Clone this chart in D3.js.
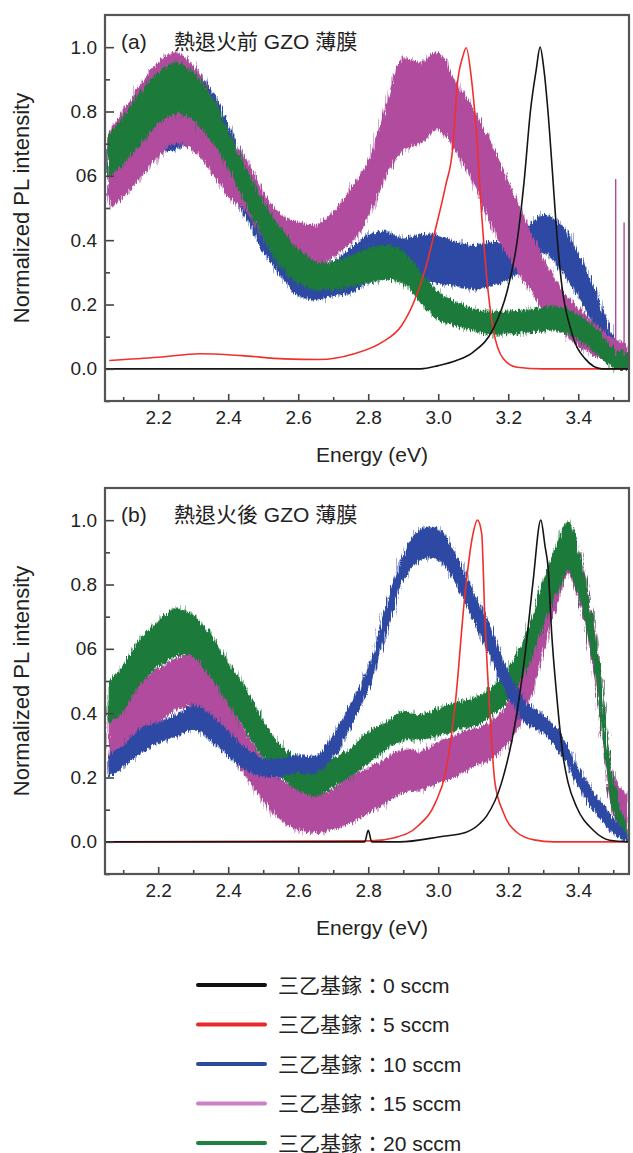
<!DOCTYPE html>
<html>
<head>
<meta charset="utf-8">
<script src="https://cdn.jsdelivr.net/npm/d3@7"></script>
<style>
  body { margin: 0; background: #fff; }
  text { font-family: "Liberation Sans", Arial, "Noto Sans CJK TC", sans-serif; fill: #222; }
</style>
</head>
<body>
<svg id="chart" width="633" height="1153"></svg>
<script>
// ---- tick values / labels ----
const xTicks = [2.2, 2.4, 2.6, 2.8, 3.0, 3.2, 3.4];
const xMinor = [2.1, 2.3, 2.5, 2.7, 2.9, 3.1, 3.3, 3.5];
const yTicks = [0.0, 0.2, 0.4, 0.6, 0.8, 1.0];
const yTickLabels = ["0.0", "0.2", "0.4", "06", "0.8", "1.0"];
const yMinor = [-0.1, 0.1, 0.3, 0.5, 0.7, 0.9];

const seriesNames = ["三乙基鎵：0 sccm", "三乙基鎵：5 sccm", "三乙基鎵：10 sccm", "三乙基鎵：15 sccm", "三乙基鎵：20 sccm"];
const seriesColors = ["#151515", "#f0302c", "#2e4aa3", "#b04c9e", "#1b7a3b"];
const legendColors = ["#111111", "#e8282a", "#2d4b9e", "#cc80c6", "#1f803f"];

// ---- (a) before annealing : [energy, value] for thin lines ----
const aBlack = [[2.05,0],[2.95,0],[3.0,0.01],[3.05,0.025],[3.1,0.052],[3.157,0.124],[3.196,0.238],[3.225,0.393],
  [3.245,0.579],[3.264,0.807],[3.28,0.93],[3.291,1.0],[3.302,0.93],[3.313,0.807],[3.327,0.6],[3.337,0.445],
  [3.352,0.269],[3.381,0.114],[3.42,0.031],[3.468,0],[3.545,0]];
const aRed = [[2.06,0.026],[2.2,0.036],[2.32,0.047],[2.44,0.041],[2.56,0.031],[2.66,0.029],[2.76,0.047],[2.84,0.083],
  [2.895,0.134],[2.934,0.217],[2.963,0.31],[2.992,0.434],[3.021,0.569],[3.041,0.682],[3.055,0.889],[3.07,0.97],
  [3.08,0.998],[3.094,0.91],[3.109,0.734],[3.123,0.496],[3.138,0.29],[3.157,0.124],[3.186,0.031],[3.225,0.005],
  [3.3,0],[3.545,0]];
// noisy spectra : [energy, upper edge, lower edge]
const aBlue = [[2.06,0.714,0.538],[2.1,0.765,0.569],[2.15,0.848,0.631],[2.2,0.91,0.672],[2.25,0.972,0.682],
  [2.3,0.93,0.703],[2.35,0.869,0.651],[2.4,0.755,0.569],[2.45,0.631,0.476],[2.5,0.517,0.372],[2.55,0.414,0.29],
  [2.6,0.341,0.228],[2.65,0.31,0.217],[2.7,0.33,0.228],[2.75,0.372,0.238],[2.8,0.414,0.269],[2.85,0.424,0.29],
  [2.9,0.403,0.3],[2.95,0.414,0.279],[3.0,0.414,0.269],[3.05,0.393,0.259],[3.1,0.383,0.248],[3.15,0.393,0.259],
  [3.2,0.393,0.279],[3.25,0.434,0.32],[3.3,0.476,0.362],[3.35,0.445,0.31],[3.4,0.352,0.228],[3.45,0.238,0.124],
  [3.5,0.103,0.021],[3.54,0.031,0.002]];
const aMagenta = [[2.06,0.734,0.496],[2.1,0.796,0.538],[2.15,0.879,0.6],[2.2,0.951,0.662],[2.25,0.982,0.703],
  [2.3,0.941,0.682],[2.35,0.848,0.62],[2.4,0.724,0.538],[2.45,0.651,0.496],[2.5,0.548,0.414],[2.55,0.476,0.352],
  [2.6,0.455,0.331],[2.65,0.445,0.31],[2.7,0.486,0.352],[2.75,0.558,0.393],[2.8,0.641,0.476],[2.85,0.807,0.6],
  [2.9,0.962,0.682],[2.95,0.951,0.703],[3.0,0.982,0.745],[3.05,0.889,0.682],[3.1,0.807,0.579],[3.15,0.703,0.455],
  [3.2,0.579,0.352],[3.25,0.455,0.269],[3.3,0.341,0.186],[3.35,0.248,0.124],[3.4,0.186,0.072],[3.45,0.134,0.041],
  [3.5,0.093,0.021],[3.54,0.072,0.01]];
const aMagentaSpikes = [[3.507,0.59],[3.531,0.455]];
const aGreen = [[2.06,0.724,0.6],[2.1,0.776,0.641],[2.15,0.858,0.703],[2.2,0.92,0.765],[2.25,0.95,0.796],
  [2.3,0.92,0.776],[2.35,0.848,0.714],[2.4,0.734,0.631],[2.45,0.62,0.517],[2.5,0.517,0.414],[2.55,0.434,0.32],
  [2.6,0.372,0.269],[2.65,0.33,0.248],[2.7,0.33,0.248],[2.75,0.35,0.259],[2.8,0.372,0.269],[2.85,0.383,0.279],
  [2.9,0.362,0.269],[2.95,0.3,0.207],[3.0,0.238,0.155],[3.05,0.207,0.134],[3.1,0.186,0.119],[3.15,0.176,0.109],
  [3.2,0.176,0.109],[3.25,0.181,0.114],[3.3,0.19,0.119],[3.35,0.19,0.119],[3.4,0.165,0.093],[3.45,0.124,0.052],
  [3.5,0.062,0.005],[3.54,0.052,0.002]];

// ---- (b) after annealing ----
const bBlack = [[2.05,0],[2.79,0],[2.8,0.036],[2.81,0],[2.89,0],[3.005,0.016],[3.08,0.03],[3.119,0.057],[3.138,0.08],
  [3.181,0.184],[3.223,0.39],[3.25,0.6],[3.271,0.81],[3.293,1.0],[3.305,0.92],[3.314,0.85],[3.324,0.65],
  [3.338,0.46],[3.357,0.264],[3.371,0.184],[3.395,0.109],[3.443,0.036],[3.49,0.005],[3.545,0]];
const bRed = [[2.05,0],[2.807,0.003],[2.875,0.013],[2.943,0.05],[2.992,0.122],[3.021,0.216],[3.05,0.444],
  [3.075,0.754],[3.098,0.95],[3.112,1.0],[3.124,0.96],[3.133,0.703],[3.148,0.392],[3.162,0.184],[3.186,0.091],
  [3.225,0.029],[3.274,0.006],[3.33,0],[3.545,0]];
const bBlue = [[2.06,0.267,0.205],[2.1,0.298,0.236],[2.15,0.35,0.278],[2.2,0.371,0.309],[2.25,0.392,0.33],
  [2.3,0.423,0.35],[2.35,0.392,0.319],[2.4,0.34,0.267],[2.45,0.288,0.226],[2.5,0.257,0.205],[2.55,0.257,0.205],
  [2.6,0.267,0.216],[2.65,0.267,0.216],[2.7,0.329,0.267],[2.75,0.423,0.361],[2.8,0.537,0.475],[2.85,0.723,0.651],
  [2.9,0.889,0.817],[2.95,0.972,0.879],[3.0,0.972,0.879],[3.05,0.889,0.806],[3.1,0.775,0.692],[3.15,0.661,0.578],
  [3.2,0.526,0.454],[3.25,0.433,0.371],[3.3,0.392,0.34],[3.35,0.33,0.278],[3.4,0.226,0.174],[3.45,0.143,0.091],
  [3.5,0.07,0.029],[3.54,0.019,0]];
const bMagenta = [[2.06,0.392,0.226],[2.1,0.433,0.257],[2.15,0.495,0.319],[2.2,0.537,0.371],[2.25,0.568,0.412],
  [2.3,0.578,0.423],[2.35,0.516,0.371],[2.4,0.433,0.288],[2.45,0.34,0.205],[2.5,0.257,0.133],[2.55,0.195,0.07],
  [2.6,0.164,0.039],[2.65,0.143,0.029],[2.7,0.164,0.039],[2.75,0.205,0.06],[2.8,0.226,0.091],[2.85,0.257,0.122],
  [2.9,0.288,0.154],[2.95,0.278,0.164],[3.0,0.309,0.184],[3.05,0.33,0.205],[3.1,0.35,0.236],[3.15,0.371,0.257],
  [3.2,0.433,0.309],[3.25,0.557,0.412],[3.3,0.723,0.599],[3.35,0.91,0.785],[3.37,0.982,0.838],[3.4,0.91,0.765],
  [3.45,0.63,0.495],[3.5,0.205,0.091],[3.54,0.143,0]];
const bGreen = [[2.06,0.495,0.371],[2.1,0.547,0.412],[2.15,0.63,0.495],[2.2,0.682,0.547],[2.25,0.723,0.578],
  [2.3,0.703,0.578],[2.35,0.64,0.516],[2.4,0.557,0.433],[2.45,0.475,0.35],[2.5,0.371,0.267],[2.55,0.298,0.205],
  [2.6,0.257,0.164],[2.65,0.226,0.143],[2.7,0.257,0.174],[2.75,0.288,0.205],[2.8,0.34,0.247],[2.85,0.371,0.288],
  [2.9,0.402,0.319],[2.95,0.392,0.319],[3.0,0.412,0.33],[3.05,0.433,0.35],[3.1,0.444,0.361],[3.15,0.475,0.392],
  [3.2,0.537,0.444],[3.25,0.64,0.537],[3.3,0.806,0.682],[3.35,0.951,0.806],[3.37,0.993,0.848],[3.4,0.91,0.775],
  [3.45,0.62,0.516],[3.5,0.184,0.102],[3.54,0.039,0]];

const svg = d3.select("#chart");
const plotLeft = 105, plotRight = 629, plotH = 386;
const x = d3.scaleLinear().domain([2.048, 3.545]).range([plotLeft, plotRight]);

// rough edge texture for the noisy spectra
const defs = svg.append("defs");
function roughFilter(id, freq, scale, seed) {
  const f = defs.append("filter").attr("id", id)
    .attr("x", "-3%").attr("y", "-8%").attr("width", "106%").attr("height", "116%");
  f.append("feTurbulence").attr("type", "fractalNoise").attr("baseFrequency", freq)
    .attr("numOctaves", 2).attr("seed", seed).attr("result", "n");
  f.append("feDisplacementMap").attr("in", "SourceGraphic").attr("in2", "n")
    .attr("scale", scale).attr("xChannelSelector", "R").attr("yChannelSelector", "G");
}
roughFilter("rough", "0.8 0.05", 9, 4);
roughFilter("roughWide", "0.6 0.04", 18, 9);

function drawPanel(top, id, tag, title, lines, bands, spikes) {
  const y = d3.scaleLinear().domain([-0.1, 1.1]).range([top + plotH, top]);
  const g = svg.append("g");

  defs.append("clipPath").attr("id", "clip" + id)
    .append("rect").attr("x", plotLeft).attr("y", top).attr("width", plotRight - plotLeft).attr("height", plotH);

  const plot = g.append("g").attr("clip-path", `url(#clip${id})`);

  const area = d3.area().x(d => x(d[0])).y0(d => y(d[2])).y1(d => y(d[1])).curve(d3.curveCatmullRom);
  bands.forEach(b => {
    // faint outer fringe, then the dense band
    plot.append("path").datum(b.data).attr("d", area)
      .attr("fill", b.color).attr("opacity", 0.45).attr("filter", "url(#roughWide)");
    plot.append("path").datum(b.data).attr("d", area)
      .attr("fill", b.color).attr("stroke", b.color).attr("stroke-width", 1.2)
      .attr("filter", "url(#rough)");
  });

  if (spikes) {
    plot.selectAll(".spike").data(spikes.data).enter().append("line")
      .attr("x1", d => x(d[0])).attr("x2", d => x(d[0]))
      .attr("y1", y(0.04)).attr("y2", d => y(d[1]))
      .attr("stroke", spikes.color).attr("stroke-width", 1.4);
  }

  const line = d3.line().x(d => x(d[0])).y(d => y(d[1])).curve(d3.curveMonotoneX);
  lines.forEach(l => {
    plot.append("path").datum(l.data).attr("d", line)
      .attr("fill", "none").attr("stroke", l.color).attr("stroke-width", 1.6);
  });

  // axes with inward ticks
  g.append("g").attr("transform", `translate(${plotLeft},0)`)
    .call(d3.axisLeft(y).tickValues(yTicks).tickSize(-9).tickPadding(8).tickFormat((d, i) => yTickLabels[i]));
  g.append("g").attr("transform", `translate(${plotLeft},0)`)
    .call(d3.axisLeft(y).tickValues(yMinor).tickSize(-5).tickFormat(""));
  g.append("g").attr("transform", `translate(0,${top + plotH})`)
    .call(d3.axisBottom(x).tickValues(xTicks).tickSize(-7).tickPadding(10).tickFormat(d3.format(".1f")));
  g.append("g").attr("transform", `translate(0,${top + plotH})`)
    .call(d3.axisBottom(x).tickValues(xMinor).tickSize(-4).tickFormat(""));
  g.selectAll(".domain").remove();
  g.selectAll(".tick line").attr("stroke", "#444").attr("stroke-width", 1.6);
  g.selectAll(".tick text").attr("font-size", 19).attr("fill", "#222")
    .style("font-family", '"Liberation Sans", Arial, sans-serif');

  g.append("rect").attr("x", plotLeft).attr("y", top).attr("width", plotRight - plotLeft).attr("height", plotH)
    .attr("fill", "none").attr("stroke", "#555").attr("stroke-width", 2.2);

  g.append("text").attr("x", 121).attr("y", top + 34).attr("font-size", 21).text(tag);
  g.append("text").attr("x", 174).attr("y", top + 34).attr("font-size", 21).text(title);

  g.append("text").attr("transform", `translate(29,${top + plotH / 2}) rotate(-90)`)
    .attr("text-anchor", "middle").attr("font-size", 22).text("Normalized PL intensity");
  g.append("text").attr("x", 372).attr("y", top + 447).attr("text-anchor", "middle")
    .attr("font-size", 21).text("Energy (eV)");
}

drawPanel(15, "a", "(a)", "熱退火前 GZO 薄膜",
  [{ data: aRed, color: seriesColors[1] }, { data: aBlack, color: seriesColors[0] }],
  [{ data: aBlue, color: seriesColors[2] }, { data: aMagenta, color: seriesColors[3] }, { data: aGreen, color: seriesColors[4] }],
  { data: aMagentaSpikes, color: seriesColors[3] });

drawPanel(488, "b", "(b)", "熱退火後 GZO 薄膜",
  [{ data: bRed, color: seriesColors[1] }, { data: bBlack, color: seriesColors[0] }],
  [{ data: bMagenta, color: seriesColors[3] }, { data: bGreen, color: seriesColors[4] }, { data: bBlue, color: seriesColors[2] }],
  null);

// legend
const legend = svg.append("g").attr("transform", "translate(198,985)");
const rows = legend.selectAll("g").data(seriesNames).enter().append("g")
  .attr("transform", (d, i) => `translate(0,${i * 39.5})`);
rows.append("line").attr("x1", 0).attr("x2", 67).attr("y1", 0).attr("y2", 0)
  .attr("stroke", (d, i) => legendColors[i]).attr("stroke-width", 4).attr("stroke-linecap", "round");
rows.append("text").attr("x", 80).attr("y", 7.5).attr("font-size", 21).text(d => d);
</script>
</body>
</html>
